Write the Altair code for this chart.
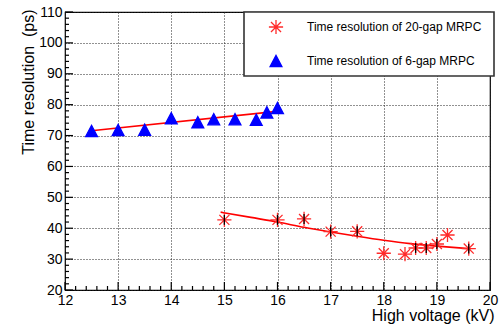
import altair as alt
import pandas as pd

# ---- data ----
label20 = "Time resolution of 20-gap MRPC"
label6 = "Time resolution of 6-gap MRPC"

hv20 = [15.0, 16.0, 16.5, 17.0, 17.5, 18.0, 18.4, 18.6, 18.8, 19.0, 19.2, 19.6]
tr20 = [42.7, 42.7, 43.0, 38.9, 39.0, 31.9, 31.6, 33.6, 33.6, 34.9, 37.8, 33.4]
err20 = [1.6, 1.6, 1.6, 1.6, 1.6, 0.0, 0.0, 1.6, 1.6, 1.6, 0.0, 1.6]

hv6 = [12.5, 13.0, 13.5, 14.0, 14.5, 14.8, 15.2, 15.6, 15.8, 16.0]
tr6 = [71.5, 71.8, 71.9, 75.6, 74.3, 75.3, 75.3, 75.1, 77.5, 78.9]

fit6_x = [12.45, 16.08]
fit6_y = [71.5, 78.0]
fit20_x = [14.93, 15.5, 16.0, 16.5, 17.0, 17.5, 18.0, 18.5, 19.0, 19.6]
fit20_y = [45.2, 43.5, 42.0, 40.3, 38.8, 37.4, 36.1, 35.0, 34.2, 33.4]

x_major = [12, 13, 14, 15, 16, 17, 18, 19, 20]
y_major = [20, 30, 40, 50, 60, 70, 80, 90, 100, 110]
x_minor = [round(12 + 0.2 * i, 1) for i in range(41) if i % 5 != 0]
y_minor = [20 + 2 * i for i in range(46) if i % 5 != 0]

W, H = 425, 278
FONT = "Liberation Sans, Arial, Helvetica, sans-serif"

star_path = "M-1.2,0L1.2,0M0,-1.2L0,1.2M-0.85,-0.85L0.85,0.85M-0.85,0.85L0.85,-0.85"
tri_path = "M-1,0.95L1,0.95L0,-0.95Z"

pts = pd.DataFrame({
    "hv": hv20 + hv6,
    "tr": tr20 + tr6,
    "series": [label20] * len(hv20) + [label6] * len(hv6),
})
errs = pd.DataFrame({"hv": hv20, "lo": [t - e for t, e in zip(tr20, err20)],
                     "hi": [t + e for t, e in zip(tr20, err20)]})
fits = pd.DataFrame({
    "hv": fit20_x + fit6_x,
    "tr": fit20_y + fit6_y,
    "fit": ["f20"] * len(fit20_x) + ["f6"] * len(fit6_x),
})

xs = alt.Scale(domain=[12, 20], nice=False, zero=False)
ys = alt.Scale(domain=[20, 110], nice=False, zero=False)

x_axis = alt.Axis(values=x_major, grid=True, gridColor="#222", gridDash=[1, 2], gridWidth=1,
                  ticks=False, domain=False, labelFont=FONT, labelFontSize=14, labelColor="black",
                  labelPadding=3, labelFlush=False, labelOverlap=False,
                  title="High voltage (kV)", titleFont=FONT, titleFontSize=16, titleFontWeight="normal",
                  titleColor="black", titleAlign="right", titleX=429, titleY=30,
                  titleBaseline="alphabetic")
y_axis = alt.Axis(values=y_major, grid=True, gridColor="#222", gridDash=[1, 2], gridWidth=1,
                  ticks=False, domain=False, labelFont=FONT, labelFontSize=14, labelColor="black",
                  labelPadding=3, labelFlush=False, labelOverlap=False,
                  title="Time resolution \u00a0(ps)", titleFont=FONT, titleFontSize=16,
                  titleFontWeight="normal", titleColor="black", titleAngle=270,
                  titleAlign="right", titleX=-32, titleY=-3, titleBaseline="alphabetic")


def X(f):
    return alt.X(f, scale=xs, axis=x_axis)


def Y(f):
    return alt.Y(f, scale=ys, axis=y_axis)


xt_major = alt.Chart(pd.DataFrame({"v": x_major})).mark_rule(color="black", strokeWidth=1.2).encode(
    x=X("v:Q"), y=alt.value(H), y2=alt.value(H - 8))
xt_minor = alt.Chart(pd.DataFrame({"v": x_minor})).mark_rule(color="black", strokeWidth=1.2).encode(
    x=X("v:Q"), y=alt.value(H), y2=alt.value(H - 4))
yt_major = alt.Chart(pd.DataFrame({"v": y_major})).mark_rule(color="black", strokeWidth=1.2).encode(
    y=Y("v:Q"), x=alt.value(0), x2=alt.value(8))
yt_minor = alt.Chart(pd.DataFrame({"v": y_minor})).mark_rule(color="black", strokeWidth=1.2).encode(
    y=Y("v:Q"), x=alt.value(0), x2=alt.value(4))

fit_layer = alt.Chart(fits).mark_line(color="#ff0000", strokeWidth=1.6, interpolate="monotone").encode(
    x=X("hv:Q"), y=Y("tr:Q"), detail="fit:N")

legend = alt.Legend(title=None, orient="none", legendX=204, legendY=8, padding=0,
                    symbolOffset=0, labelOffset=24, rowPadding=15, labelFont=FONT,
                    labelFontSize=12, labelColor="black", symbolSize=140,
                    symbolStrokeWidth=1.3, labelLimit=300)

point_layer = alt.Chart(pts).mark_point(size=140, strokeWidth=1.3, opacity=1, fillOpacity=1).encode(
    x=X("hv:Q"),
    y=Y("tr:Q"),
    shape=alt.Shape("series:N", scale=alt.Scale(domain=[label20, label6], range=[star_path, tri_path]),
                    legend=legend),
    stroke=alt.Stroke("series:N", scale=alt.Scale(domain=[label20, label6], range=["#ff2a2a", "#0000ff"]),
                      legend=legend),
    fill=alt.Fill("series:N", scale=alt.Scale(domain=[label20, label6], range=["transparent", "#0000ff"]),
                  legend=legend),
)

err_layer = alt.Chart(errs).mark_rule(color="black", strokeWidth=1.3).encode(
    x=X("hv:Q"), y=Y("lo:Q"), y2="hi:Q")

legend_box = alt.Chart(pd.DataFrame({"k": [0]})).mark_rect(
    fill="white", stroke="#333", strokeWidth=1.6).encode(
    x=alt.value(179), x2=alt.value(429), y=alt.value(0), y2=alt.value(64))

chart = alt.layer(
    xt_major, xt_minor, yt_major, yt_minor,
    fit_layer, point_layer, err_layer, legend_box,
).properties(
    width=W, height=H,
    autosize=alt.AutoSizeParams(type="none"),
    padding={"left": 65, "top": 12, "right": 10, "bottom": 37},
    background="white",
).configure_view(stroke="black", strokeWidth=1.2)

chart.save("out.html", embed_options={"renderer": "svg", "actions": False})
